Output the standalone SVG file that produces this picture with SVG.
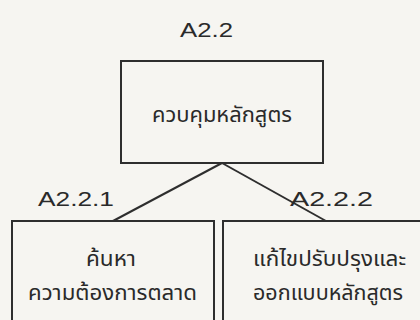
<svg xmlns="http://www.w3.org/2000/svg" width="420" height="320" viewBox="0 0 420 320">
<style>
.box{fill:none;stroke:#2e2e2e;stroke-width:2}
.edge{fill:none;stroke:#2e2e2e;stroke-width:2}
.lbl{font-family:"Liberation Sans",Arial,sans-serif;font-size:21px;fill:#2a2a2a}
.th{font-family:"Noto Sans","Noto Sans Thai","DejaVu Sans",sans-serif;font-size:21px;fill:#2a2a2a}
</style>
<rect x="0" y="0" width="420" height="320" fill="#f6f5f1"/>
<g id="connectors">
<line class="edge" x1="222" y1="163" x2="113" y2="221"/>
<line class="edge" x1="222" y1="163" x2="326" y2="221"/>
</g>
<g id="A2.2">
<text class="lbl" x="180" y="37" textLength="53" lengthAdjust="spacingAndGlyphs">A2.2</text>
<rect class="box" x="121" y="61" width="202" height="102"/>
<text class="th" x="152" y="122" textLength="140" lengthAdjust="spacingAndGlyphs">ควบคุมหลักสูตร</text>
</g>
<g id="A2.2.1">
<text class="lbl" x="38" y="206" textLength="76" lengthAdjust="spacingAndGlyphs">A2.2.1</text>
<rect class="box" x="12" y="221" width="202" height="110"/>
<text class="th" x="86" y="266" textLength="50" lengthAdjust="spacingAndGlyphs">ค้นหา</text>
<text class="th" x="28" y="300" textLength="169" lengthAdjust="spacingAndGlyphs">ความต้องการตลาด</text>
</g>
<g id="A2.2.2">
<text class="lbl" x="290" y="206" textLength="83" lengthAdjust="spacingAndGlyphs">A2.2.2</text>
<rect class="box" x="223" y="221" width="210" height="110"/>
<text class="th" x="253" y="266" textLength="153" lengthAdjust="spacingAndGlyphs">แก้ไขปรับปรุงและ</text>
<text class="th" x="253" y="300" textLength="150" lengthAdjust="spacingAndGlyphs">ออกแบบหลักสูตร</text>
</g>
</svg>
